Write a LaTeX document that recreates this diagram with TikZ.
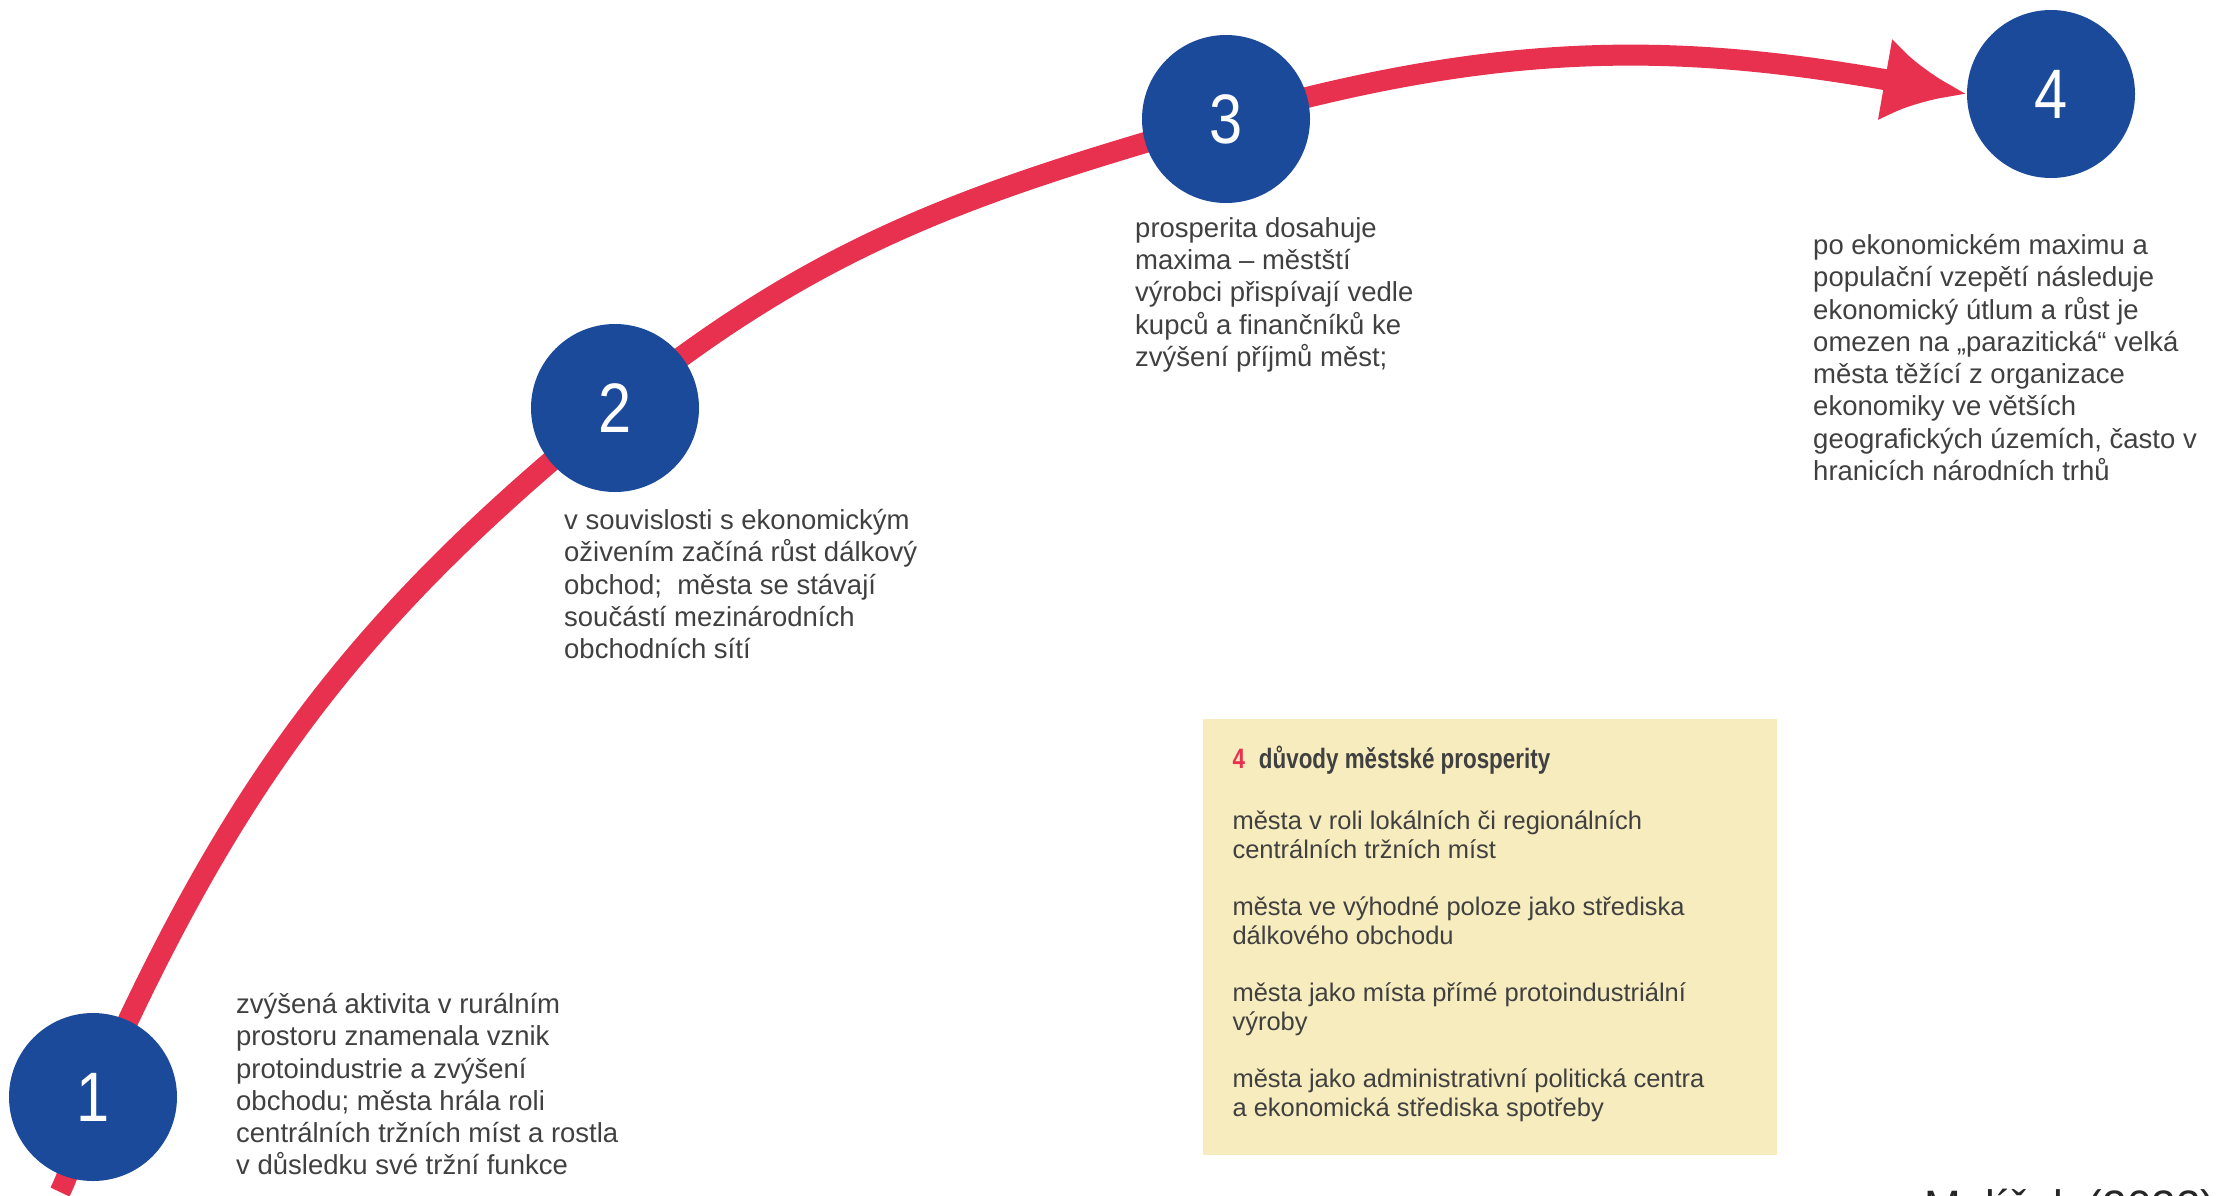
\documentclass[tikz,border=0pt]{standalone}
\usepackage{fontspec}
\setmainfont{Liberation Sans}
\newfontfamily\numfont[FakeStretch=0.85]{Liberation Sans}
\newfontfamily\headfont[FakeStretch=0.8]{Liberation Sans}
\usepackage{tikz}
\usetikzlibrary{arrows.meta, positioning, backgrounds}
\definecolor{ribbon}{HTML}{E8304F}
\definecolor{disc}{HTML}{1B4A9B}
\definecolor{note}{HTML}{F7ECBD}
\definecolor{ink}{HTML}{404040}

\begin{document}
\begin{tikzpicture}[
            x = 1pt, y = 1pt,
            node distance = 29pt and 0pt,
            stage/.style = {circle, fill=disc, text=white, inner sep=0pt,
                            minimum size=168pt, font=\numfont\fontsize{70}{70}\selectfont},
            desc/.style = {anchor=north west, inner sep=0pt, align=left, text=ink,
                           font=\fontsize{27.5}{32.3}\selectfont},
            reason/.style = {inner sep=0pt, align=left, text=ink,
                             font=\fontsize{25.5}{29}\selectfont}
                            ]
            \useasboundingbox (0,0) rectangle (2228,-1195);
            \node (C1) [stage] at (93,-1097) {1};
            \node (C2) [stage] at (615,-408)  {2};
            \node (C3) [stage] at (1226,-119) {3};
            \node (C4) [stage] at (2051,-94)  {4};
            \coordinate (START) at (60,-1192);
            %
            \node (T1) [desc] at (236,-993)  {zvýšená aktivita v rurálním\\ prostoru znamenala vznik\\
                protoindustrie a zvýšení\\ obchodu; města hrála roli\\ centrálních tržních míst a rostla\\
                v důsledku své tržní funkce};
            \node (T2) [desc] at (564,-509)  {v souvislosti s ekonomickým\\ oživením začíná růst dálkový\\
                obchod;~ města se stávají\\ součástí mezinárodních\\ obchodních sítí};
            \node (T3) [desc] at (1135,-217) {prosperita dosahuje\\ maxima -- městští\\
                výrobci přispívají vedle\\ kupců a finančníků ke\\ zvýšení příjmů měst;};
            \node (T4) [desc] at (1813,-234) {po ekonomickém maximu a\\ populační vzepětí následuje\\
                ekonomický útlum a růst je\\ omezen na „parazitická“ velká\\ města těžící z organizace\\
                ekonomiky ve větších\\ geografických územích, často v\\ hranicích národních trhů};
            %
            \node (BOX) [fill=note, minimum width=574pt, minimum height=436pt] at (1489.5,-937) {};
            \node (HEAD) [below right = 27pt and 30pt of BOX.north west, inner sep=0pt, text=ink,
                          font=\headfont\bfseries\fontsize{28}{28}\selectfont]
                          {\textcolor{ribbon}{4}\hspace{14pt}důvody městské prosperity};
            \node (R1) [reason, below = 36pt of HEAD.south west, anchor=north west]
                          {města v roli lokálních či regionálních\\ centrálních tržních míst};
            \node (R2) [reason, below = 86pt of R1.north west, anchor=north west]
                          {města ve výhodné poloze jako střediska\\ dálkového obchodu};
            \node (R3) [reason, below = 86pt of R2.north west, anchor=north west]
                          {města jako místa přímé protoindustriální\\ výroby};
            \node (R4) [reason, below = 86pt of R3.north west, anchor=north west]
                          {města jako administrativní politická centra\\ a ekonomická střediska spotřeby};
            %
            \node (SRC) [anchor=base west, inner sep=0pt, text=black!85,
                         font=\fontsize{44}{44}\selectfont] at (1924,-1221) {Mulíček (2022)};
            %
            \begin{scope}[on background layer]
            \draw [ribbon, line width=21pt, -{Latex[length=83pt, width=84pt]}]
                    (START) to[out=64, in=245] (C1.center)
                            to[out=66, in=219] (C2.center)
                            to[out=39, in=196] (C3.center)
                            to[out=16, in=170] (C4.west);
            \end{scope}
    \end{tikzpicture}
\end{document}
